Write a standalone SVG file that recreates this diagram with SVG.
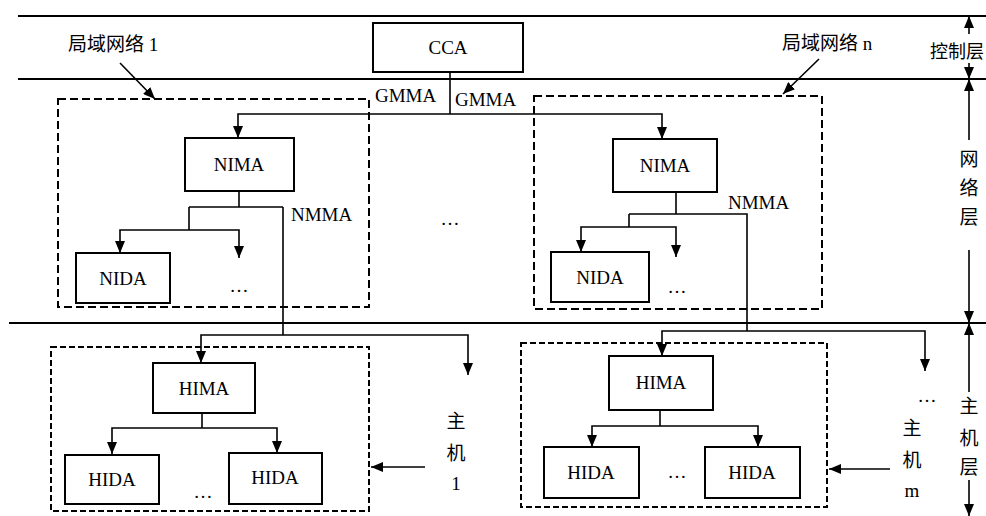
<svg xmlns="http://www.w3.org/2000/svg" width="986" height="516" viewBox="0 0 986 516">
  <defs>
    <marker id="arrow" viewBox="0 0 12 10" refX="12" refY="5" markerWidth="12" markerHeight="10" markerUnits="userSpaceOnUse" orient="auto">
      <path d="M0,0 L12,5 L0,10 z" fill="#000"/>
    </marker>
    <style>
      .layer { stroke: #000; stroke-width: 2; fill: none; }
      .box { fill: #fff; stroke: #000; stroke-width: 2; }
      .group { fill: none; stroke: #000; stroke-width: 2; stroke-dasharray: 8 4; }
      .group-s { fill: none; stroke: #000; stroke-width: 2; stroke-dasharray: 6 3; }
      .wire { fill: none; stroke: #000; stroke-width: 1.6; }
      .arr { fill: none; stroke: #000; stroke-width: 1.6; marker-end: url(#arrow); }
      .lbl { font-family: "Liberation Serif", "Noto Sans CJK SC", serif; font-size: 19px; fill: #000; }
      .cn { font-family: "Noto Sans CJK SC", sans-serif; font-size: 19px; fill: #000; text-anchor: middle; }
      .mid { text-anchor: middle; }
    </style>
  </defs>
  <rect x="0" y="0" width="986" height="516" fill="#fff"/>

  <!-- layer boundaries -->
  <g id="layers">
    <path class="layer" d="M18,16 H986"/>
    <path class="layer" d="M18,79 H986"/>
    <path class="layer" d="M9,323 H986"/>
  </g>

  <!-- dashed domain outlines -->
  <g id="lan-1"><rect class="group" x="58" y="99" width="311" height="208"/></g>
  <g id="lan-n"><rect class="group" x="534" y="96" width="288" height="213"/></g>
  <g id="host-1"><rect class="group-s" x="51" y="347" width="318" height="164"/></g>
  <g id="host-m"><rect class="group-s" x="521" y="343" width="306" height="164"/></g>

  <!-- connectors -->
  <g id="connectors">
    <path class="wire" d="M450,72 V114"/>
    <path class="arr" d="M450,114 H238 V138"/>
    <path class="arr" d="M450,114 H662 V139"/>

    <path class="wire" d="M239,191 V207 M189,207 H283 M189,207 V230 M283,207 V335"/>
    <path class="arr" d="M189,230 H120 V253"/>
    <path class="arr" d="M189,230 H239 V258"/>
    <path class="arr" d="M283,335 H201 V363"/>
    <path class="arr" d="M283,335 H468 V375"/>
    <path class="wire" d="M202,413 V428"/>
    <path class="arr" d="M202,428 H112 V454"/>
    <path class="arr" d="M202,428 H277 V453"/>

    <path class="wire" d="M676,192 V214 M629,214 H747 V331 M629,214 V227"/>
    <path class="arr" d="M629,227 H581 V252"/>
    <path class="arr" d="M629,227 H676 V257"/>
    <path class="arr" d="M747,331 H662 V356"/>
    <path class="arr" d="M747,331 H925 V371"/>
    <path class="wire" d="M660,410 V426"/>
    <path class="arr" d="M660,426 H592 V447"/>
    <path class="arr" d="M660,426 H758 V447"/>

    <path class="arr" d="M120,63 L155,99"/>
    <path class="arr" d="M819,59 L783,94"/>
    <path class="arr" d="M425,467 H371"/>
    <path class="arr" d="M890,469 H829"/>

    <path class="arr" d="M969,34 V16"/>
    <path class="arr" d="M969,63 V79"/>
    <path class="arr" d="M969,140 V79"/>
    <path class="arr" d="M969,250 V323"/>
    <path class="arr" d="M969,392 V323"/>
    <path class="arr" d="M969,480 V516"/>
  </g>

  <!-- nodes -->
  <g id="cca"><rect class="box" x="373" y="23" width="150" height="49"/><text class="lbl mid" x="448" y="54">CCA</text></g>

  <g id="nima-1"><rect class="box" x="185" y="138" width="109" height="53"/><text class="lbl mid" x="239" y="171">NIMA</text></g>
  <g id="nida-1"><rect class="box" x="76" y="253" width="94" height="50"/><text class="lbl mid" x="123" y="285">NIDA</text></g>
  <g id="nima-n"><rect class="box" x="613" y="139" width="104" height="53"/><text class="lbl mid" x="665" y="172">NIMA</text></g>
  <g id="nida-n"><rect class="box" x="551" y="252" width="98" height="50"/><text class="lbl mid" x="600" y="284">NIDA</text></g>

  <g id="hima-1"><rect class="box" x="153" y="363" width="102" height="50"/><text class="lbl mid" x="204" y="395">HIMA</text></g>
  <g id="hida-1a"><rect class="box" x="65" y="455" width="94" height="49"/><text class="lbl mid" x="112" y="486">HIDA</text></g>
  <g id="hida-1b"><rect class="box" x="229" y="453" width="93" height="51"/><text class="lbl mid" x="275" y="484">HIDA</text></g>

  <g id="hima-m"><rect class="box" x="609" y="356" width="104" height="54"/><text class="lbl mid" x="661" y="389">HIMA</text></g>
  <g id="hida-ma"><rect class="box" x="544" y="447" width="95" height="51"/><text class="lbl mid" x="591" y="479">HIDA</text></g>
  <g id="hida-mb"><rect class="box" x="705" y="447" width="95" height="51"/><text class="lbl mid" x="752" y="479">HIDA</text></g>

  <!-- labels -->
  <g id="labels">
    <text class="lbl" x="68" y="51">局域网络 1</text>
    <text class="lbl" x="782" y="50">局域网络 n</text>
    <text class="lbl" x="375" y="102">GMMA</text>
    <text class="lbl" x="455" y="106">GMMA</text>
    <text class="lbl" x="291" y="221">NMMA</text>
    <text class="lbl" x="728" y="209">NMMA</text>

    <text class="lbl mid" x="239" y="292">…</text>
    <text class="lbl mid" x="450" y="225">…</text>
    <text class="lbl mid" x="677" y="293">…</text>
    <text class="lbl mid" x="203" y="498">…</text>
    <text class="lbl mid" x="677" y="478">…</text>
    <text class="lbl mid" x="927" y="402">…</text>

    <text class="cn" x="456" y="428">主</text>
    <text class="cn" x="456" y="460">机</text>
    <text class="lbl mid" x="456" y="490">1</text>
    <text class="cn" x="912" y="435">主</text>
    <text class="cn" x="912" y="467">机</text>
    <text class="lbl mid" x="912" y="497">m</text>

    <text class="cn" x="930" y="58" style="text-anchor:start;font-size:18px">控制层</text>
    <text class="cn" x="969" y="166">网</text>
    <text class="cn" x="969" y="195">络</text>
    <text class="cn" x="969" y="224">层</text>
    <text class="cn" x="969" y="413">主</text>
    <text class="cn" x="969" y="445">机</text>
    <text class="cn" x="969" y="474">层</text>
  </g>
</svg>
